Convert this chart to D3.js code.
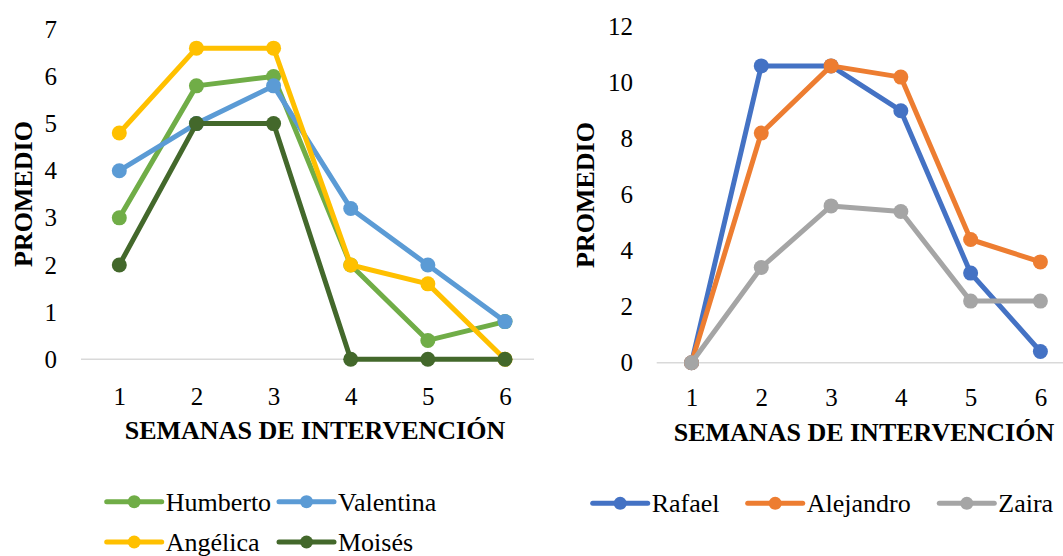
<!DOCTYPE html>
<html>
<head>
<meta charset="utf-8">
<script src="https://cdn.jsdelivr.net/npm/d3@7"></script>
<style>
  body { margin: 0; background: #fff; }
  text { font-family: "Liberation Serif", "Times New Roman", serif; fill: #000; }
</style>
</head>
<body>
<div class="canvas"></div>
<script>
// weeks on the x axis
const weeks = [1, 2, 3, 4, 5, 6];

// left chart series
const humberto = [3, 5.8, 6, 2, 0.4, 0.8];
const valentina = [4, 5, 5.8, 3.2, 2, 0.8];
const angelica = [4.8, 6.6, 6.6, 2, 1.6, 0];
const moises = [2, 5, 5, 0, 0, 0];

// right chart series
const rafael = [0, 10.6, 10.6, 9, 3.2, 0.4];
const alejandro = [0, 8.2, 10.6, 10.2, 4.4, 3.6];
const zaira = [0, 3.4, 5.6, 5.4, 2.2, 2.2];

const leftTicks = [0, 1, 2, 3, 4, 5, 6, 7];
const rightTicks = [0, 2, 4, 6, 8, 10, 12];

const fontFamily = '"Liberation Serif", "Times New Roman", serif';

const svg = d3
  .select('.canvas')
  .append('svg')
  .attr('width', 1063)
  .attr('height', 556)
  .attr('font-family', fontFamily);

const charts = [
  {
    series: [
      { name: 'Humberto', values: humberto, colour: '#70AD47' },
      { name: 'Valentina', values: valentina, colour: '#5B9BD5' },
      { name: 'Angélica', values: angelica, colour: '#FFC000' },
      { name: 'Moisés', values: moises, colour: '#43682B' },
    ],
    ticks: leftTicks,
    plot: { left: 81, right: 534, top: 29.3, bottom: 359.3 },
    points: [119.3, 505],
    tickPad: 24,
    xLabelPad: 28,
    titleX: 315,
    titleY: 439,
    yTitleX: 32,
    yTitleY: 194,
    legend: [
      { x: 106.7, y: 501.7 },
      { x: 279, y: 501.7 },
      { x: 106.7, y: 542 },
      { x: 279, y: 542 },
    ],
  },
  {
    series: [
      { name: 'Rafael', values: rafael, colour: '#4472C4' },
      { name: 'Alejandro', values: alejandro, colour: '#ED7D31' },
      { name: 'Zaira', values: zaira, colour: '#A5A5A5' },
    ],
    ticks: rightTicks,
    plot: { left: 656.7, right: 1063, top: 26.7, bottom: 362.7 },
    points: [691.5, 1040.4],
    tickPad: 23.7,
    xLabelPad: 26,
    titleX: 864,
    titleY: 441,
    yTitleX: 593.6,
    yTitleY: 195,
    legend: [
      { x: 592.7, y: 503.3 },
      { x: 747.7, y: 503.3 },
      { x: 939.3, y: 503.3 },
    ],
  },
];

charts.forEach((c) => {
  const x = d3.scalePoint().domain(weeks).range(c.points);
  const y = d3
    .scaleLinear()
    .domain([0, d3.max(c.ticks)])
    .range([c.plot.bottom, c.plot.top]);

  // baseline
  svg
    .append('line')
    .attr('x1', c.plot.left)
    .attr('x2', c.plot.right)
    .attr('y1', y(0))
    .attr('y2', y(0))
    .attr('stroke', '#d9d9d9')
    .attr('stroke-width', 1.5);

  // y axis labels
  const yAxis = svg
    .append('g')
    .attr('transform', `translate(${c.plot.left},0)`)
    .call(
      d3
        .axisLeft(y)
        .tickValues(c.ticks)
        .tickFormat(d3.format('d'))
        .tickSize(0)
        .tickPadding(c.tickPad)
    )
    .attr('font-family', fontFamily)
    .attr('font-size', 25);
  yAxis.select('.domain').remove();
  yAxis.selectAll('text').attr('fill', '#000');

  // x axis labels
  const xAxis = svg
    .append('g')
    .attr('transform', `translate(0,${y(0)})`)
    .call(d3.axisBottom(x).tickSize(0).tickPadding(c.xLabelPad))
    .attr('font-family', fontFamily)
    .attr('font-size', 25);
  xAxis.select('.domain').remove();
  xAxis.selectAll('text').attr('fill', '#000');

  // axis titles
  svg
    .append('text')
    .attr('x', c.titleX)
    .attr('y', c.titleY)
    .attr('text-anchor', 'middle')
    .attr('font-family', fontFamily)
    .attr('font-size', 26)
    .attr('font-weight', 'bold')
    .text('SEMANAS DE INTERVENCIÓN');

  svg
    .append('text')
    .attr('transform', `translate(${c.yTitleX},${c.yTitleY}) rotate(-90)`)
    .attr('text-anchor', 'middle')
    .attr('font-family', fontFamily)
    .attr('font-size', 26)
    .attr('font-weight', 'bold')
    .text('PROMEDIO');

  const line = d3
    .line()
    .x((d, i) => x(weeks[i]))
    .y((d) => y(d));

  // series lines and markers, drawn in series order
  c.series.forEach((s) => {
    const g = svg.append('g');
    g.append('path')
      .attr('d', line(s.values))
      .attr('fill', 'none')
      .attr('stroke', s.colour)
      .attr('stroke-width', 5)
      .attr('stroke-linejoin', 'round');
    g.selectAll('circle')
      .data(s.values)
      .enter()
      .append('circle')
      .attr('cx', (d, i) => x(weeks[i]))
      .attr('cy', (d) => y(d))
      .attr('r', 7.5)
      .attr('fill', s.colour);
  });

  // legend
  c.series.forEach((s, i) => {
    const pos = c.legend[i];
    const g = svg.append('g').attr('transform', `translate(${pos.x},${pos.y})`);
    g.append('line')
      .attr('x1', 0)
      .attr('x2', 55)
      .attr('stroke', s.colour)
      .attr('stroke-width', 5)
      .attr('stroke-linecap', 'round');
    g.append('circle').attr('cx', 27.5).attr('r', 6.5).attr('fill', s.colour);
    g.append('text')
      .attr('x', 59)
      .attr('y', 9)
      .attr('font-family', fontFamily)
      .attr('font-size', 26)
      .text(s.name);
  });
});
</script>
</body>
</html>
